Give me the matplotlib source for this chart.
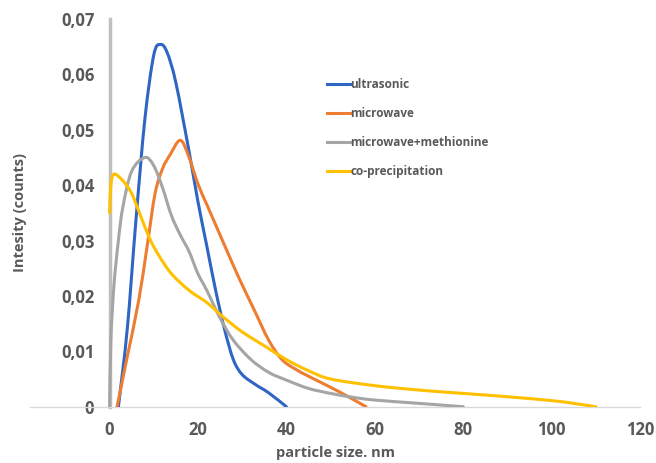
import numpy as np
import matplotlib.pyplot as plt
from matplotlib.path import Path
from matplotlib.patches import PathPatch
from matplotlib.lines import Line2D

# data (x in nm, y intensity)
ultrasonic_x = [2, 4, 6, 8, 10, 11.5, 13, 15, 18, 20, 22, 24, 26, 28, 30, 33, 36, 40]
ultrasonic_y = [0, 0.014, 0.034, 0.052, 0.0635, 0.0654, 0.064, 0.0585, 0.046, 0.037, 0.029, 0.021, 0.014, 0.0085,
                0.0058, 0.004, 0.0025, 0]

microwave_x = [1.7, 4, 6.6, 8.5, 10.3, 12, 13.7, 16, 17.9, 20, 22, 25, 28, 30, 33, 36, 39, 42, 45, 50, 54, 58]
microwave_y = [0, 0.009, 0.0192, 0.029, 0.0385, 0.043, 0.0455, 0.0481, 0.0452, 0.0402, 0.0365, 0.031, 0.0255,
               0.022, 0.017, 0.012, 0.0085, 0.0068, 0.0055, 0.0035, 0.0018, 0]

methionine_x = [0, 0.3, 1, 2, 3, 5, 8, 10, 12, 14, 16, 18, 20, 22, 25, 28, 32, 36, 40, 45, 50, 55, 60, 70, 80]
methionine_y = [0, 0.012, 0.022, 0.03, 0.036, 0.0425, 0.045, 0.0435, 0.0395, 0.0345, 0.031, 0.028, 0.024, 0.021,
                0.016, 0.012, 0.0085, 0.0062, 0.0048, 0.0033, 0.0024, 0.0017, 0.0012, 0.0006, 0]

coprec_x = [0, 0.3, 1, 3, 5, 7, 9, 11, 14, 18, 22, 26, 30, 35, 40, 45, 50, 60, 70, 80, 90, 100, 105, 110]
coprec_y = [0.035, 0.04, 0.042, 0.0408, 0.0385, 0.0345, 0.0305, 0.0275, 0.024, 0.021, 0.0188, 0.016, 0.0135, 0.011,
            0.0085, 0.0065, 0.005, 0.0038, 0.003, 0.0024, 0.0018, 0.0011, 0.0006, 0]

x_ticks = [0, 20, 40, 60, 80, 100, 120]
y_ticks = [0, 0.01, 0.02, 0.03, 0.04, 0.05, 0.06, 0.07]


def smooth_path(xs, ys):
    # excel-like smoothed line: cubic bezier through the points
    p = np.column_stack([xs, ys])
    verts = [p[0]]
    codes = [Path.MOVETO]
    for i in range(len(p) - 1):
        p0 = p[i - 1] if i > 0 else p[i]
        p3 = p[i + 2] if i + 2 < len(p) else p[i + 1]
        c1 = p[i] + (p[i + 1] - p0) / 6
        c2 = p[i + 1] - (p3 - p[i]) / 6
        verts += [c1, c2, p[i + 1]]
        codes += [Path.CURVE4] * 3
    return Path(verts, codes)


plt.rcParams['font.family'] = ['Open Sans', 'DejaVu Sans']
txt = '#595959'

fig = plt.figure(figsize=(6.56, 4.63), dpi=100)
ax = fig.add_axes([0.0457, 0.1216, 0.93, 0.8374])

series = [
    (ultrasonic_x, ultrasonic_y, '#2F65C4', 'ultrasonic'),
    (microwave_x, microwave_y, '#ED7D31', 'microwave'),
    (methionine_x, methionine_y, '#A5A5A5', 'microwave+methionine'),
    (coprec_x, coprec_y, '#FFC000', 'co-precipitation'),
]
handles = []
for xs, ys, c, name in series:
    ax.add_patch(PathPatch(smooth_path(xs, ys), fill=False, edgecolor=c, lw=2.2, capstyle='round', zorder=3))
    handles.append(Line2D([], [], color=c, lw=2.2, label=name))

ax.set_xlim(-18, 120)
ax.set_ylim(0, 0.07)

for s in ['top', 'right']:
    ax.spines[s].set_visible(False)
ax.spines['left'].set_position(('data', 0))
ax.spines['left'].set_color('#BFBFBF')
ax.spines['left'].set_linewidth(2.5)
ax.spines['left'].set_zorder(1)
ax.spines['bottom'].set_color('#D9D9D9')
ax.spines['bottom'].set_linewidth(1)

ax.set_xticks(x_ticks)
ax.set_yticks(y_ticks)
ax.set_yticklabels([('%.2f' % v).replace('.', ',') if v else '0' for v in y_ticks])
ax.tick_params(length=0, labelsize=12, labelcolor=txt)
ax.tick_params(axis='y', pad=11)
ax.tick_params(axis='x', pad=10)
for lab in ax.get_xticklabels() + ax.get_yticklabels():
    lab.set_fontweight('bold')

ax.set_xlabel('particle size. nm', fontsize=10.5, fontweight='bold', color=txt, labelpad=5)
fig.text(0.03, 0.54, 'Intesity (counts)', rotation=90, fontsize=10.5, fontweight='bold', color=txt,
         ha='center', va='center')

leg = ax.legend(handles=handles, loc='upper left', bbox_to_anchor=(0.47, 0.875), frameon=False,
                handlelength=1.9, handletextpad=0.05, labelspacing=1.35, prop={'size': 8.5, 'weight': 'bold'})
for t in leg.get_texts():
    t.set_color(txt)

fig.savefig('out.png', dpi=100)
